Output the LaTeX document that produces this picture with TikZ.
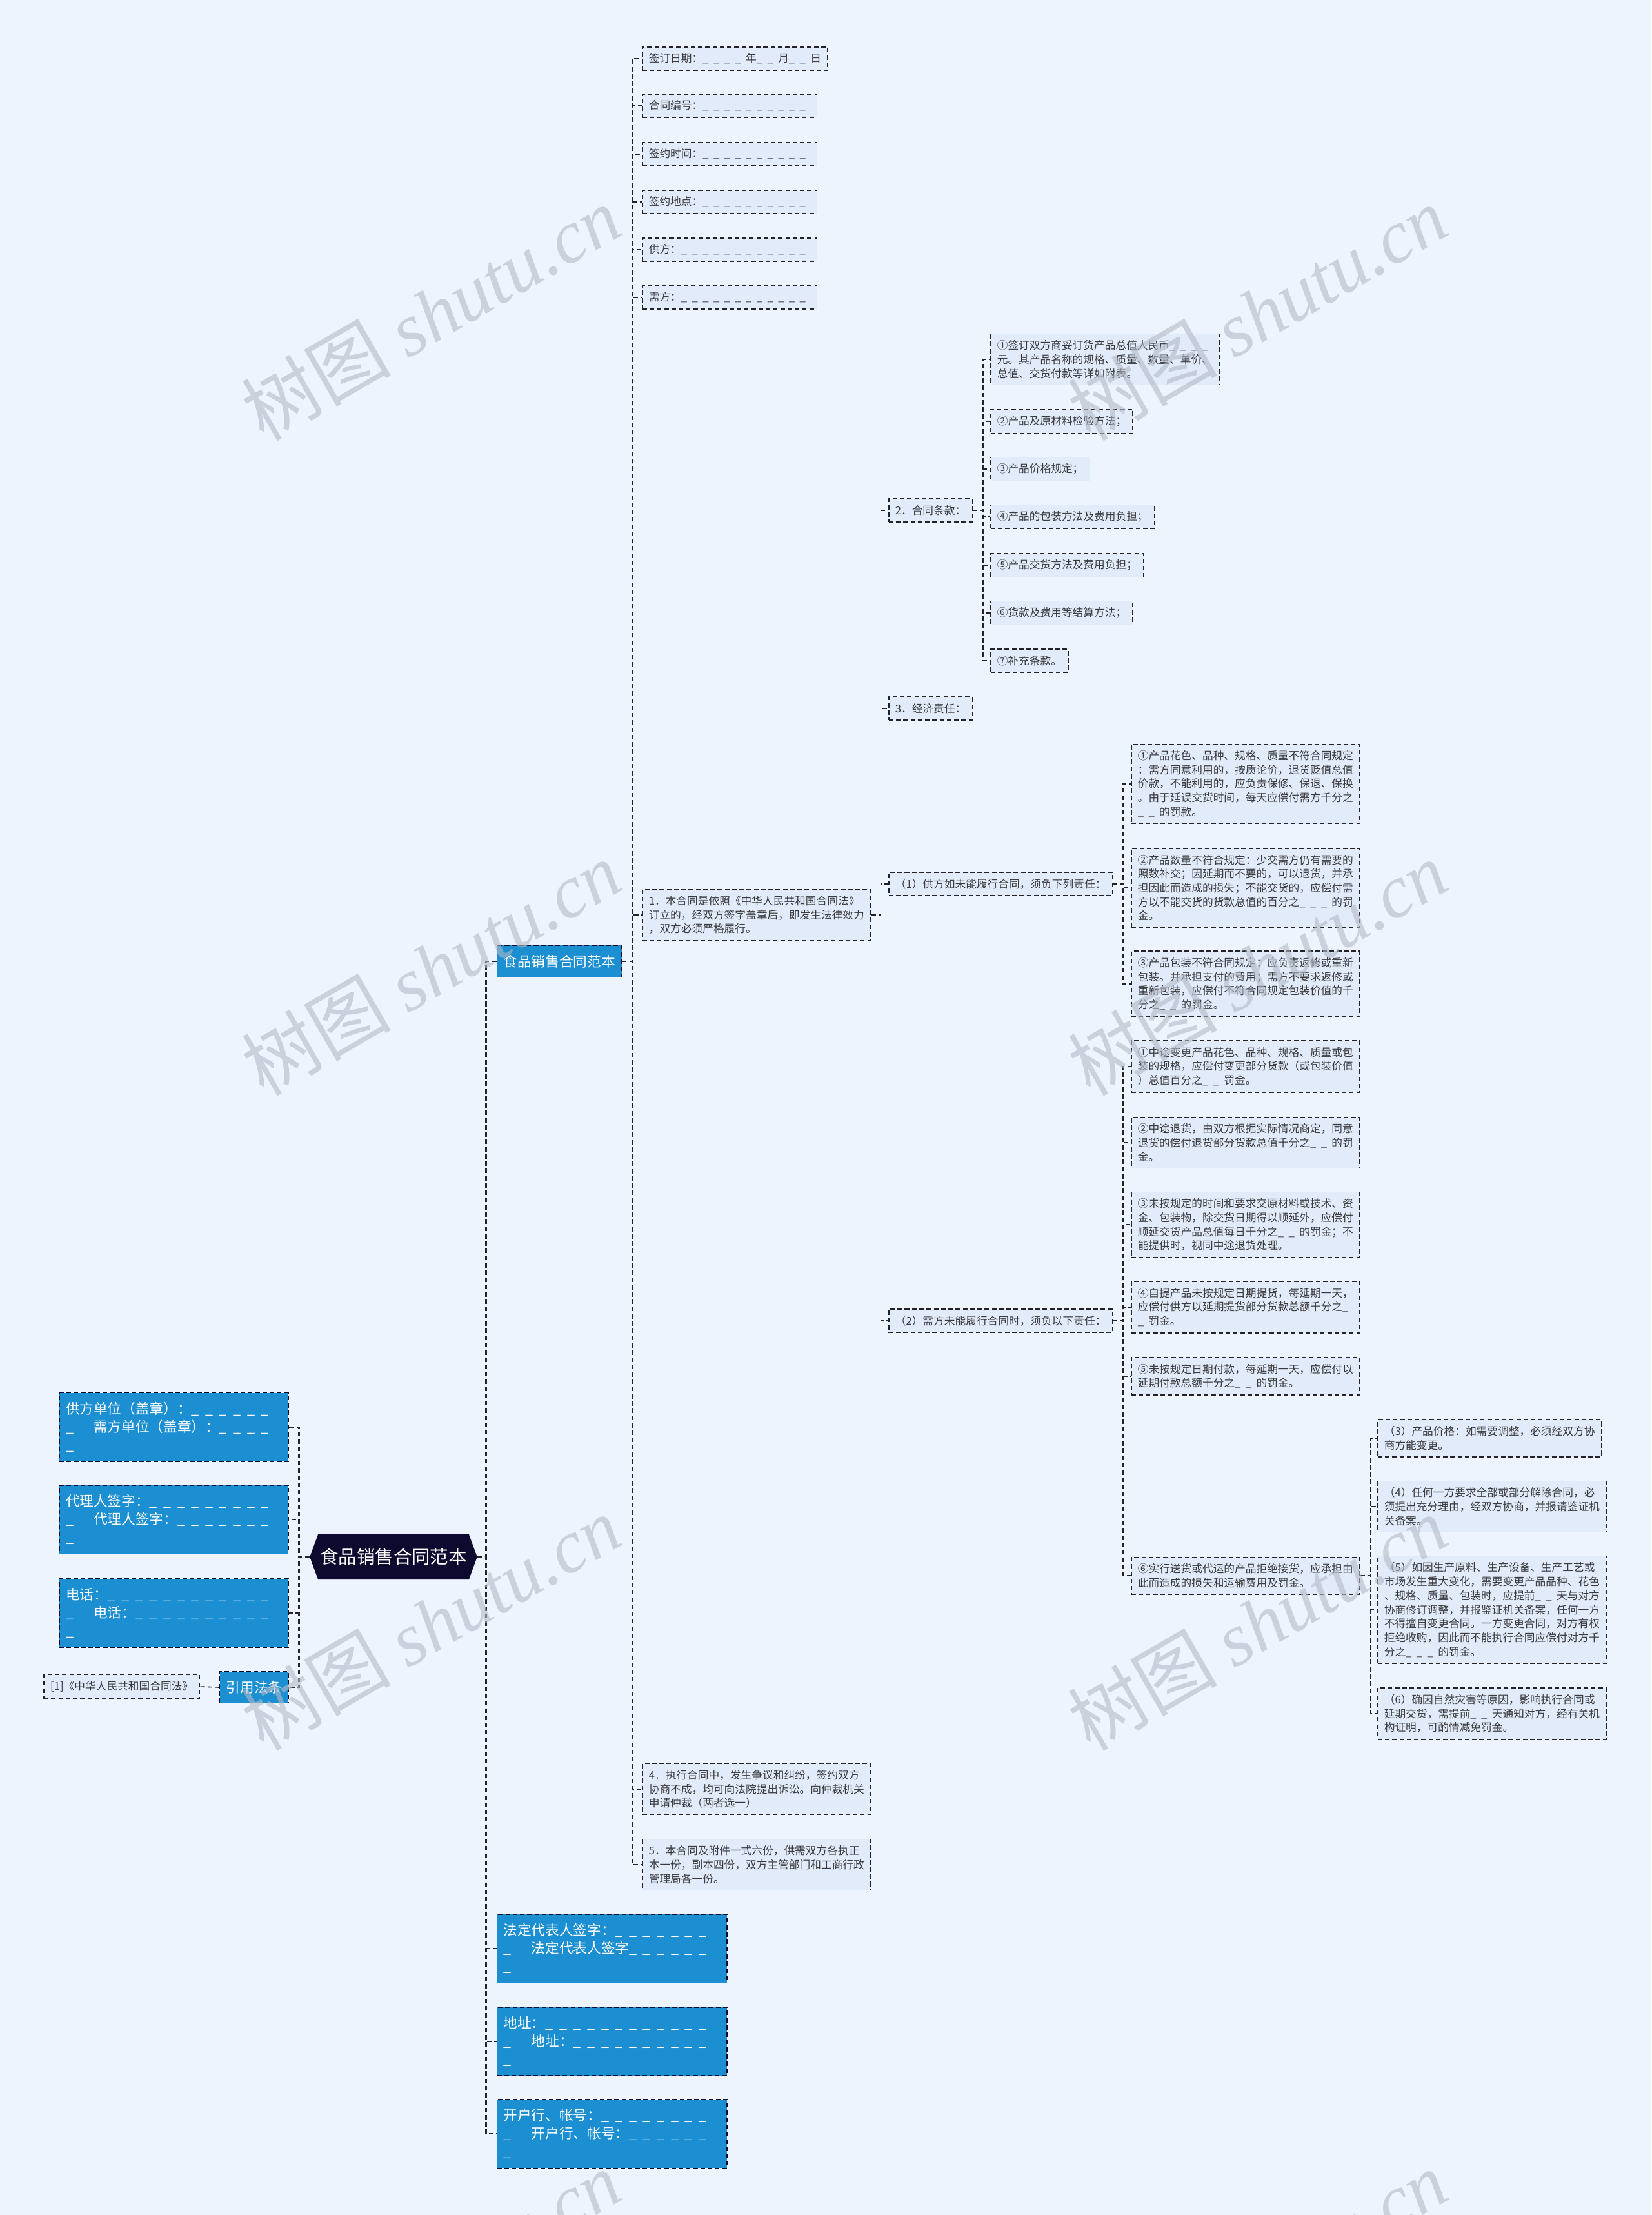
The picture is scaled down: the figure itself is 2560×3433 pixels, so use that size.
\documentclass[tikz,border=0pt]{standalone}
\usepackage{fontspec}
\setmainfont{Noto Sans CJK SC}
\newfontfamily\wmfont{Liberation Serif}
\usetikzlibrary{shapes.symbols}

\definecolor{bgcol}{RGB}{238,244,254}
\definecolor{leafcol}{RGB}{226,235,250}
\definecolor{linecol}{RGB}{34,34,40}
\definecolor{textcol}{RGB}{58,58,62}
\definecolor{bluecol}{RGB}{27,143,210}
\definecolor{rootcol}{RGB}{14,10,47}
\definecolor{wmcol}{RGB}{180,186,198}

\newcommand{\blanks}[1]{\foreach \k in {1,...,#1}{\makebox[1em][l]{\_}}}
\newcommand{\lead}{\makebox[2em][l]{\_}}

\tikzset{
  leaf/.style={draw=linecol, line width=0.45pt, dash pattern=on 2pt off 1.2pt,
    fill=leafcol, text=textcol, anchor=west, align=left,
    inner xsep=0.1cm, inner ysep=0.1cm,
    font=\fontsize{4.75pt}{6.17pt}\selectfont},
  bluebox/.style={draw=rootcol, line width=0.4pt, dash pattern=on 2pt off 1.2pt,
    fill=bluecol, text=white, anchor=west, align=left,
    inner xsep=0.1cm, inner ysep=0.145cm,
    font=\fontsize{6.15pt}{7.97pt}\selectfont},
  rootnode/.style={signal, signal to=east and west, signal pointer angle=140,
    fill=rootcol, text=white, minimum height=0.7cm, inner xsep=0.03cm,
    font=\fontsize{8.1pt}{9pt}\selectfont},
  link/.style={draw=linecol, line width=0.45pt, dash pattern=on 2pt off 1.2pt},
  mainlink/.style={link, line width=0.75pt},
  wmark/.style={text=wmcol, opacity=0.6, rotate=30,
    font=\fontsize{33pt}{33pt}\selectfont}
}

\begin{document}
\begin{tikzpicture}[x=0.01cm,y=-0.01cm]
	%%%%% START %%%%%
	
	\fill[bgcol] (0,0) rectangle (2560,3433);
	\useasboundingbox (0,0) rectangle (2560,3433);
	
	\node[rootnode] (root) at (610,2413) {食品销售合同范本};
	
	% left side
	\node[bluebox, text width=3.35cm, anchor=east] (gongfang) at (448,2212) {供方单位（盖章）：\blanks{6}\\\lead 需方单位（盖章）：\blanks{4}\\\_};
	\node[bluebox, text width=3.35cm, anchor=east] (daili) at (448,2355) {代理人签字：\blanks{9}\\\lead 代理人签字：\blanks{7}\\\_};
	\node[bluebox, text width=3.35cm, anchor=east] (dianhua) at (448,2500) {电话：\blanks{12}\\\lead 电话：\blanks{10}\\\_};
	\node[bluebox, anchor=east] (yinyong) at (448,2615) {引用法条};
	\node[leaf, anchor=east] (fatiao) at (310,2614) {[1]《中华人民共和国合同法》};
	
	% right side
	\node[bluebox] (fanben) at (770,1490) {食品销售合同范本};
	\node[bluebox, text width=3.36cm] (fading) at (770,3020) {法定代表人签字：\blanks{7}\\\lead 法定代表人签字\blanks{6}\\\_};
	\node[bluebox, text width=3.36cm] (dizhi) at (770,3164) {地址：\blanks{12}\\\lead 地址：\blanks{10}\\\_};
	\node[bluebox, text width=3.36cm] (kaihu) at (770,3307) {开户行、帐号：\blanks{8}\\\lead 开户行、帐号：\blanks{6}\\\_};
	
	\node[leaf] (qianding) at (995,91) {签订日期：\blanks{4}年\blanks{2}月\blanks{2}日};
	\node[leaf] (bianhao) at (995,164) {合同编号：\blanks{10}};
	\node[leaf] (shijian) at (995,239) {签约时间：\blanks{10}};
	\node[leaf] (didian) at (995,313) {签约地点：\blanks{10}};
	\node[leaf] (gong) at (995,387) {供方：\blanks{12}};
	\node[leaf] (xu) at (995,461) {需方：\blanks{12}};
	
	\node[leaf] (tiao1) at (995,1418) {1．本合同是依照《中华人民共和国合同法》\\订立的，经双方签字盖章后，即发生法律效力\\，双方必须严格履行。};
	\node[leaf] (tiao4) at (995,2773) {4．执行合同中，发生争议和纠纷，签约双方\\协商不成，均可向法院提出诉讼。向仲裁机关\\申请仲裁（两者选一）};
	\node[leaf] (tiao5) at (995,2890) {5．本合同及附件一式六份，供需双方各执正\\本一份，副本四份，双方主管部门和工商行政\\管理局各一份。};
	
	\node[leaf] (tiao2) at (1377,791) {2．合同条款：};
	\node[leaf] (tiao3) at (1377,1098) {3．经济责任：};
	\node[leaf] (zeren1) at (1377,1370) {（1）供方如未能履行合同，须负下列责任：};
	\node[leaf] (zeren2) at (1377,2047) {（2）需方未能履行合同时，须负以下责任：};
	
	\node[leaf] (kuan1) at (1535,557) {①签订双方商妥订货产品总值人民币\blanks{4}\\元。其产品名称的规格、质量、数量、单价、\\总值、交货付款等详如附表。};
	\node[leaf] (kuan2) at (1535,653) {②产品及原材料检验方法；};
	\node[leaf] (kuan3) at (1535,727) {③产品价格规定；};
	\node[leaf] (kuan4) at (1535,801) {④产品的包装方法及费用负担；};
	\node[leaf] (kuan5) at (1535,876) {⑤产品交货方法及费用负担；};
	\node[leaf] (kuan6) at (1535,950) {⑥货款及费用等结算方法；};
	\node[leaf] (kuan7) at (1535,1024) {⑦补充条款。};
	
	\node[leaf] (gz1) at (1753,1215) {①产品花色、品种、规格、质量不符合同规定\\：需方同意利用的，按质论价，退货贬值总值\\价款，不能利用的，应负责保修、保退、保换\\。由于延误交货时间，每天应偿付需方千分之\\\blanks{2}的罚款。};
	\node[leaf] (gz2) at (1753,1376) {②产品数量不符合规定：少交需方仍有需要的\\照数补交；因延期而不要的，可以退货，并承\\担因此而造成的损失；不能交货的，应偿付需\\方以不能交货的货款总值的百分之\blanks{3}的罚\\金。};
	\node[leaf] (gz3) at (1753,1525) {③产品包装不符合同规定：应负责返修或重新\\包装。并承担支付的费用；需方不要求返修或\\重新包装，应偿付不符合同规定包装价值的千\\分之\blanks{2}的罚金。};
	
	\node[leaf] (xz1) at (1753,1653) {①中途变更产品花色、品种、规格、质量或包\\装的规格，应偿付变更部分货款（或包装价值\\）总值百分之\blanks{2}罚金。};
	\node[leaf] (xz2) at (1753,1771) {②中途退货，由双方根据实际情况商定，同意\\退货的偿付退货部分货款总值千分之\blanks{2}的罚\\金。};
	\node[leaf] (xz3) at (1753,1898) {③未按规定的时间和要求交原材料或技术、资\\金、包装物，除交货日期得以顺延外，应偿付\\顺延交货产品总值每日千分之\blanks{2}的罚金；不\\能提供时，视同中途退货处理。};
	\node[leaf] (xz4) at (1753,2026) {④自提产品未按规定日期提货，每延期一天，\\应偿付供方以延期提货部分货款总额千分之\blanks{1}\\\blanks{1}罚金。};
	\node[leaf] (xz5) at (1753,2133) {⑤未按规定日期付款，每延期一天，应偿付以\\延期付款总额千分之\blanks{2}的罚金。};
	\node[leaf] (xz6) at (1753,2442) {⑥实行送货或代运的产品拒绝接货，应承担由\\此而造成的损失和运输费用及罚金。};
	
	\node[leaf] (bu3) at (2135,2229) {（3）产品价格：如需要调整，必须经双方协\\商方能变更。};
	\node[leaf] (bu4) at (2135,2335) {（4）任何一方要求全部或部分解除合同，必\\须提出充分理由，经双方协商，并报请鉴证机\\关备案。};
	\node[leaf] (bu5) at (2135,2495) {（5）如因生产原料、生产设备、生产工艺或\\市场发生重大变化，需要变更产品品种、花色\\、规格、质量、包装时，应提前\blanks{2}天与对方\\协商修订调整，并报鉴证机关备案，任何一方\\不得擅自变更合同。一方变更合同，对方有权\\拒绝收购，因此而不能执行合同应偿付对方千\\分之\blanks{3}的罚金。};
	\node[leaf] (bu6) at (2135,2656) {（6）确因自然灾害等原因，影响执行合同或\\延期交货，需提前\blanks{2}天通知对方，经有关机\\构证明，可酌情减免罚金。};
	
	% connectors
	\foreach \c in {gongfang,daili,dianhua,yinyong}
		\draw[mainlink] (root.west) -- ++(-16,0) |- (\c.east);
	\foreach \c in {fanben,fading,dizhi,kaihu}
		\draw[mainlink] (root.east) -- ++(13,0) |- (\c.west);
	\draw[link] (yinyong.west) -- (fatiao.east);
	
	\foreach \c in {qianding,bianhao,shijian,didian,gong,xu,tiao1,tiao4,tiao5}
		\draw[link] (fanben.east) -- ++(16,0) |- (\c.west);
	\foreach \c in {tiao2,tiao3,zeren1,zeren2}
		\draw[link] (tiao1.east) -- ++(15,0) |- (\c.west);
	\foreach \c in {kuan1,kuan2,kuan3,kuan4,kuan5,kuan6,kuan7}
		\draw[link] (tiao2.east) -- ++(16,0) |- (\c.west);
	\foreach \c in {gz1,gz2,gz3}
		\draw[link] (zeren1.east) -- ++(16,0) |- (\c.west);
	\foreach \c in {xz1,xz2,xz3,xz4,xz5,xz6}
		\draw[link] (zeren2.east) -- ++(16,0) |- (\c.west);
	\foreach \c in {bu3,bu4,bu5,bu6}
		\draw[link] (xz6.east) -- ++(16,0) |- (\c.west);
	
	% watermark
	\foreach \wx in {668,1949}
		\foreach \wy in {485,1500,2515,3530}
			\node[wmark] (wm\wx\wy) at (\wx,\wy) {树图 {\wmfont\itshape shutu.cn}};
	
	%%%%% END %%%%%
\end{tikzpicture}
\end{document}
